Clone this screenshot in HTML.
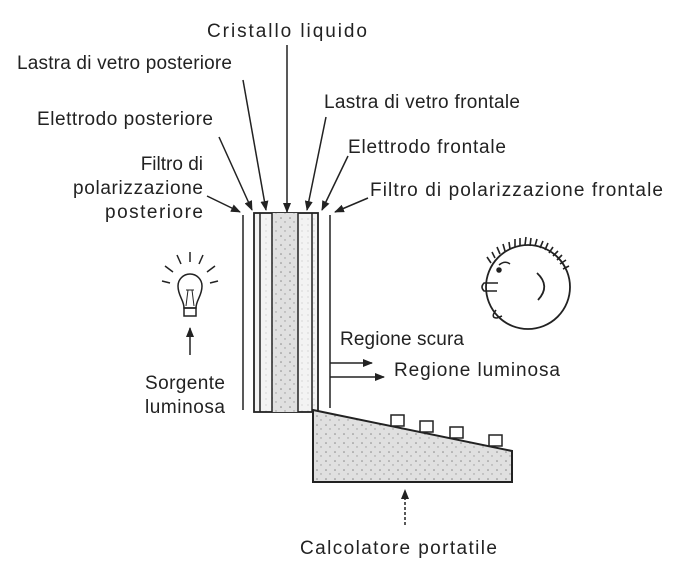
<!DOCTYPE html>
<html><head><meta charset="utf-8"><style>
html,body{margin:0;padding:0;background:#fff;}
svg{display:block;}
text{font-family:"Liberation Sans",sans-serif;font-size:19px;fill:#222;}
</style></head><body>
<svg width="680" height="569" viewBox="0 0 680 569" xmlns="http://www.w3.org/2000/svg">
<defs>
<marker id="a" markerWidth="10" markerHeight="8" refX="9" refY="4" orient="auto" markerUnits="userSpaceOnUse"><path d="M0,0 L10,4 L0,8 z" fill="#222"/></marker>
<pattern id="dots" width="9" height="9" patternUnits="userSpaceOnUse"><rect width="9" height="9" fill="#e0e0e0"/><circle cx="2" cy="2" r="0.8" fill="#888"/><circle cx="6" cy="6" r="0.7" fill="#999"/></pattern>
<pattern id="dots2" width="6" height="6" patternUnits="userSpaceOnUse"><rect width="6" height="6" fill="#f3f3f3"/><circle cx="2" cy="3" r="0.5" fill="#aaa"/></pattern>
</defs>
<g stroke="#222" stroke-width="1.5" fill="none">
<line x1="287" y1="45" x2="287" y2="212" marker-end="url(#a)"/>
<line x1="243" y1="80" x2="266" y2="210" marker-end="url(#a)"/>
<line x1="219" y1="137" x2="252" y2="210" marker-end="url(#a)"/>
<line x1="207" y1="196" x2="240" y2="212" marker-end="url(#a)"/>
<line x1="326" y1="117" x2="307" y2="210" marker-end="url(#a)"/>
<line x1="348" y1="156" x2="322" y2="210" marker-end="url(#a)"/>
<line x1="368" y1="198" x2="335" y2="212" marker-end="url(#a)"/>
<line x1="243" y1="215" x2="243" y2="410"/>
<line x1="330" y1="215" x2="330" y2="408"/>
<rect x="254" y="213" width="64" height="199" fill="url(#dots2)" stroke-width="1.8"/>
<rect x="272" y="213" width="26" height="199" fill="url(#dots)" stroke="none"/>
<line x1="260" y1="213" x2="260" y2="412"/>
<line x1="272" y1="213" x2="272" y2="412"/>
<line x1="298" y1="213" x2="298" y2="412"/>
<line x1="312" y1="213" x2="312" y2="412"/>
<line x1="330" y1="363" x2="372" y2="363" marker-end="url(#a)"/>
<line x1="330" y1="377" x2="384" y2="377" marker-end="url(#a)"/>
<path d="M313,410 L512,451 L512,482 L313,482 Z" fill="url(#dots)" stroke-width="2"/>
<rect x="391" y="415" width="13" height="11" fill="#fff"/>
<rect x="420" y="421" width="13" height="11" fill="#fff"/>
<rect x="450" y="427" width="13" height="11" fill="#fff"/>
<rect x="489" y="435" width="13" height="11" fill="#fff"/>
<line x1="405" y1="525" x2="405" y2="490" stroke-dasharray="3,2" marker-end="url(#a)"/>
<line x1="190" y1="355" x2="190" y2="328" marker-end="url(#a)"/>
<path d="M184,308 C184,300 178,296 178,286 A12,12 0 1 1 202,286 C202,296 196,300 196,308 Z" fill="#fff"/>
<rect x="184" y="308" width="12" height="8"/>
<path d="M186,306 L188,290 L192,290 L194,306 M186,290 L194,290" stroke-width="1"/>
<line x1="170" y1="283" x2="162" y2="281"/>
<line x1="173" y1="272" x2="165" y2="266"/>
<line x1="181" y1="264" x2="177" y2="255"/>
<line x1="190" y1="262" x2="190" y2="252"/>
<line x1="199" y1="264" x2="203" y2="255"/>
<line x1="207" y1="272" x2="215" y2="266"/>
<line x1="210" y1="283" x2="218" y2="281"/>
<circle cx="528" cy="287" r="42" fill="#fff" stroke-width="1.8"/>
<path d="M537,273 Q551,286 538,300" stroke-width="1.8"/>
<path d="M498,283 L484,283 Q480,287 484,291 L497,291"/>
<path d="M496,310 Q490,318 497,318 L502,316"/>
<path d="M499,265 Q505,260 510,264"/>
<circle cx="499" cy="270" r="2" fill="#222"/>
<g stroke-width="1.6">
<path d="M491,263 l-4,-6 M495,258 l-3,-6 M500,254 l-3,-7 M505,251 l-2,-7 M510,249 l-1,-7 M515,247 l0,-8 M520,246 l0,-8 M525,245 l1,-8 M530,246 l1,-8 M535,246 l2,-7 M540,248 l3,-7 M545,250 l3,-7 M549,253 l4,-6 M553,256 l5,-5 M557,260 l5,-5 M560,264 l6,-4 M563,269 l6,-3"/>
</g>
</g>
<text x="287" y="37" text-anchor="middle" textLength="160">Cristallo liquido</text>
<text x="17" y="69" textLength="215">Lastra di vetro posteriore</text>
<text x="37" y="125" textLength="176">Elettrodo posteriore</text>
<text x="203" y="170" text-anchor="end">Filtro di</text>
<text x="203" y="194" text-anchor="end" textLength="130">polarizzazione</text>
<text x="203" y="218" text-anchor="end" textLength="98">posteriore</text>
<text x="324" y="108" textLength="196">Lastra di vetro frontale</text>
<text x="348" y="153" textLength="158">Elettrodo frontale</text>
<text x="370" y="196" textLength="293">Filtro di polarizzazione frontale</text>
<text x="340" y="345" textLength="124">Regione scura</text>
<text x="394" y="376" textLength="166">Regione luminosa</text>
<text x="145" y="389" textLength="80">Sorgente</text>
<text x="145" y="413" textLength="80">luminosa</text>
<text x="300" y="554" textLength="197">Calcolatore portatile</text>
</svg>
</body></html>
